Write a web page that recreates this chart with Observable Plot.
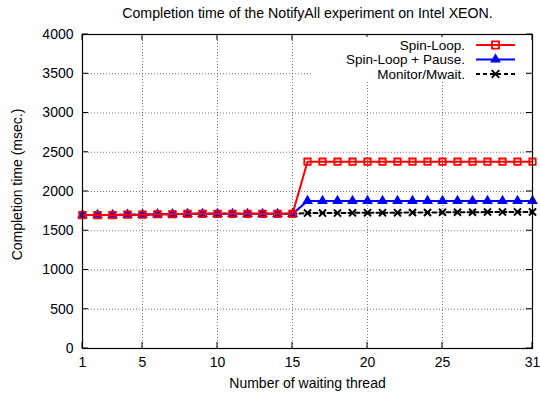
<!DOCTYPE html>
<html>
<head>
<meta charset="utf-8">
<script src="https://cdn.jsdelivr.net/npm/d3@7"></script>
<script src="https://cdn.jsdelivr.net/npm/@observablehq/plot@0.6"></script>
<style>
html,body{margin:0;padding:0;background:#fff;}
</style>
</head>
<body>
<div id="chart"></div>
<script>
const titleText = "Completion time of the NotifyAll experiment on Intel XEON.";
const xLabel = "Number of waiting thread";
const yLabel = "Completion time (msec.)";
const threads = [1,2,3,4,5,6,7,8,9,10,11,12,13,14,15,16,17,18,19,20,21,22,23,24,25,26,27,28,29,30,31];
const spinLoop = [1700,1700,1700,1705,1705,1710,1710,1715,1715,1715,1715,1715,1715,1715,1715,
  2380,2380,2380,2380,2380,2380,2380,2380,2380,2380,2380,2380,2380,2380,2380,2380];
const spinPause = [1700,1700,1700,1705,1705,1710,1710,1715,1715,1715,1715,1715,1715,1715,1715,
  1880,1880,1880,1880,1880,1880,1880,1880,1880,1880,1880,1880,1880,1880,1880,1880];
const monitor = [1700,1700,1700,1705,1705,1710,1710,1715,1715,1715,1715,1715,1715,1715,1715,
  1725,1725,1725,1728,1730,1730,1730,1732,1732,1735,1735,1735,1738,1738,1740,1740];
const seriesNames = ["Spin-Loop.", "Spin-Loop + Pause.", "Monitor/Mwait."];
const xTicks = [1,5,10,15,20,25,31];
const xGrid = [5,10,15,20,25];
const yTicks = [0,500,1000,1500,2000,2500,3000,3500,4000];
const yGrid = [500,1000,1500,2000,2500,3000,3500];

const rows = (vals) => threads.map((t,i) => ({x: t, y: vals[i]}));
const dSpin = rows(spinLoop), dPause = rows(spinPause), dMon = rows(monitor);

const font = "'Liberation Sans', Arial, Helvetica, sans-serif";
const fs = 14;
const gridStyle = {stroke: "#000", strokeOpacity: 0.55, strokeWidth: 1, strokeDasharray: "1,2"};

const plot = Plot.plot({
  width: 540, height: 397,
  marginLeft: 82, marginRight: 8, marginTop: 34, marginBottom: 49,
  style: {fontFamily: font, fontSize: fs + "px", background: "#fff", color: "#000"},
  x: {domain: [1, 31]},
  y: {domain: [0, 4000]},
  marks: [
    Plot.gridX(xGrid, gridStyle),
    Plot.gridY(yGrid, gridStyle),
    Plot.axisX(xTicks, {tickSize: 0, tickPadding: 9, label: null, fontSize: fs, tickFormat: d => String(d)}),
    Plot.axisY(yTicks, {tickSize: 0, tickPadding: 9, label: null, fontSize: fs, tickFormat: d => String(d)}),
    Plot.line(dMon, {x: "x", y: "y", stroke: "#000", strokeWidth: 2, strokeDasharray: "4,3"}),
    Plot.dot(dMon, {x: "x", y: "y", symbol: "times", r: 3.3, stroke: "#000", strokeWidth: 2}),
    Plot.line(dPause, {x: "x", y: "y", stroke: "#0000ff", strokeWidth: 2}),
    Plot.dot(dPause, {x: "x", y: "y", symbol: "triangle", r: 4, fill: "#0000ff", stroke: "none"}),
    Plot.line(dSpin, {x: "x", y: "y", stroke: "#ff0000", strokeWidth: 2}),
    Plot.dot(dSpin, {x: "x", y: "y", symbol: "square", r: 3.6, fill: "none", stroke: "#ff0000", strokeWidth: 1.8}),
    Plot.frame({stroke: "#000", strokeWidth: 1.2}),
    Plot.text([titleText], {frameAnchor: "top", lineAnchor: "middle", dy: -21, fontSize: 14.2}),
    Plot.text([xLabel], {frameAnchor: "bottom", lineAnchor: "middle", dy: 35, fontSize: fs}),
    Plot.text([yLabel], {frameAnchor: "left", textAnchor: "middle", lineAnchor: "middle", dx: -65, dy: -7, rotate: -90, fontSize: fs})
  ]
});
document.getElementById("chart").appendChild(plot);

// inward ticks on all four sides (mirror ticks) using Plot's scales
const sx = plot.scale("x"), sy = plot.scale("y");
const svg = d3.select(plot);
const L = 82, R = 532, T = 34, B = 348, tk = 6;
const tg = svg.append("g").attr("stroke", "#000").attr("stroke-width", 1);
yTicks.forEach(v => {
  const yy = sy.apply(v);
  tg.append("line").attr("x1", L).attr("x2", L + tk).attr("y1", yy).attr("y2", yy);
  tg.append("line").attr("x1", R).attr("x2", R - tk).attr("y1", yy).attr("y2", yy);
});
xTicks.forEach(v => {
  const xx = sx.apply(v);
  tg.append("line").attr("x1", xx).attr("x2", xx).attr("y1", B).attr("y2", B - tk);
  tg.append("line").attr("x1", xx).attr("x2", xx).attr("y1", T).attr("y2", T + tk);
});

// legend (key) top-right inside the frame, clearing grid lines behind it
const lg = svg.append("g").attr("font-family", font).attr("font-size", 13.5);
lg.append("rect").attr("x", 312).attr("y", 37).attr("width", 213).attr("height", 45).attr("fill", "#fff");
const legendRows = [
  {name: seriesNames[0], color: "#ff0000", sym: d3.symbolSquare, fill: "none", dash: null},
  {name: seriesNames[1], color: "#0000ff", sym: d3.symbolTriangle, fill: "#0000ff", dash: null},
  {name: seriesNames[2], color: "#000", sym: d3.symbolTimes, fill: "none", dash: "4,3"}
];
legendRows.forEach((r, i) => {
  const yy = 45 + i * 14.5;
  lg.append("text").attr("x", 465).attr("y", yy).attr("dy", "0.35em").attr("text-anchor", "end").attr("fill", "#000").text(r.name);
  lg.append("line").attr("x1", 476).attr("x2", 515).attr("y1", yy).attr("y2", yy)
    .attr("stroke", r.color).attr("stroke-width", 2).attr("stroke-dasharray", r.dash);
  const size = r.sym === d3.symbolTimes ? 40 : 50;
  lg.append("path").attr("d", d3.symbol(r.sym, size)()).attr("transform", `translate(495.5,${yy})`)
    .attr("fill", r.fill).attr("stroke", r.fill === "none" ? r.color : "none").attr("stroke-width", 1.8);
});
</script>
</body>
</html>
